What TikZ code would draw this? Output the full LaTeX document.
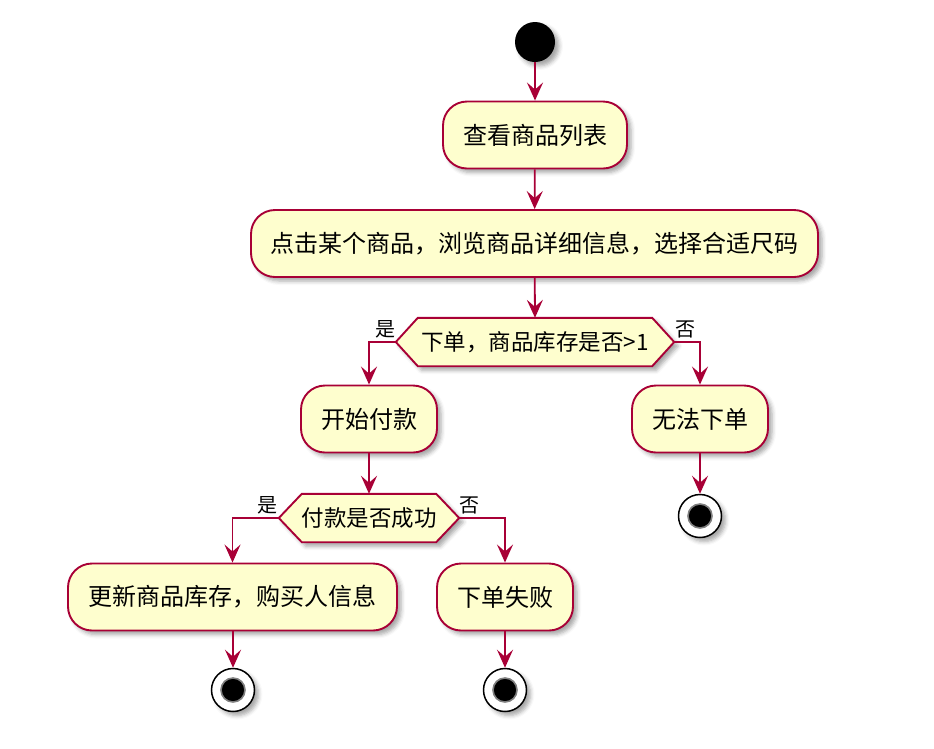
\documentclass[tikz,border=0pt]{standalone}
\usepackage{fontspec}
\setmainfont{Noto Sans CJK SC}
\usetikzlibrary{arrows.meta,shadows.blur,calc}
\definecolor{pborder}{HTML}{A80036}
\definecolor{pfill}{HTML}{FEFECE}
\tikzset{
  shad/.style={blur shadow={shadow xshift=4pt,shadow yshift=-4pt,shadow blur radius=4pt,shadow opacity=35}},
  actbox/.style={draw=pborder,fill=pfill,line width=1.9pt,rounded corners=24pt,inner sep=0pt,
    minimum height=67pt,font=\fontsize{24}{28}\selectfont,shad},
  decbox/.style={inner sep=0pt,minimum height=48pt},
  dectext/.style={font=\fontsize{22.5}{26}\selectfont,inner sep=0pt},
  hexa/.style={draw=pborder,fill=pfill,line width=1.9pt,shad},
  startnode/.style={circle,fill=black,minimum size=40pt,inner sep=0pt,shad},
  stopnode/.style={circle,draw=black,fill=white,line width=1.5pt,minimum size=43pt,inner sep=0pt,shad},
  stopin/.style={circle,fill=black,draw=black!50,line width=1.6pt,minimum size=24pt,inner sep=0pt},
  arr/.style={draw=pborder,line width=1.8pt,-{Stealth[length=18pt,width=16pt,inset=7pt]}},
  lab/.style={font=\fontsize{20}{22}\selectfont,inner sep=0pt},
}
\begin{document}
\begin{tikzpicture}[x=1pt,y=-1pt]
\path[use as bounding box] (0,0) rectangle (934,748);
% nodes
\node[startnode] (s) at (535,42) {};
\node[actbox,minimum width=184pt] (b1) at (535,135) {查看商品列表};
\node[actbox,minimum width=567pt] (b2) at (534.5,243.5) {点击某个商品，浏览商品详细信息，选择合适尺码};
\node[decbox,minimum width=278pt] (d1) at (535,342) {};
\node[actbox,minimum width=136pt] (b3) at (369,419) {开始付款};
\node[actbox,minimum width=136pt] (b4) at (700,419) {无法下单};
\node[stopnode] (e1) at (700,516) {};
\node[stopin] at (e1) {};
\node[decbox,minimum width=180pt] (d2) at (369,518) {};
\node[actbox,minimum width=329pt] (b5) at (232.5,597) {更新商品库存，购买人信息};
\node[actbox,minimum width=136pt] (b6) at (505,597) {下单失败};
\node[stopnode] (e2) at (233,690) {};
\node[stopin] at (e2) {};
\node[stopnode] (e3) at (505,690) {};
\node[stopin] at (e3) {};
% hexagons
\path[hexa] (d1.west) -- ([xshift=22pt]d1.north west) -- ([xshift=-22pt]d1.north east) -- (d1.east)
  -- ([xshift=-22pt]d1.south east) -- ([xshift=22pt]d1.south west) -- cycle;
\node[dectext] at (d1) {下单，商品库存是否>1};
\path[hexa] (d2.west) -- ([xshift=23pt]d2.north west) -- ([xshift=-23pt]d2.north east) -- (d2.east)
  -- ([xshift=-23pt]d2.south east) -- ([xshift=23pt]d2.south west) -- cycle;
\node[dectext] at (d2) {付款是否成功};
% labels
\node[lab] at (385,329) {是};
\node[lab] at (685,329) {否};
\node[lab] at (267.5,505) {是};
\node[lab] at (469,505) {否};
% connectors
\draw[arr] (s) -- (b1);
\draw[arr] (b1) -- (b2);
\draw[arr] (b2) -- (d1.north);
\draw[arr] (d1.west) -| (b3.north);
\draw[arr] (d1.east) -| (b4.north);
\draw[arr] (b4) -- (e1);
\draw[arr] (b3) -- (d2.north);
\draw[arr] (d2.west) -| (b5.north);
\draw[arr] (d2.east) -| (b6.north);
\draw[arr] (b5.south -| e2) -- (e2);
\draw[arr] (b6) -- (e3);
\end{tikzpicture}
\end{document}
